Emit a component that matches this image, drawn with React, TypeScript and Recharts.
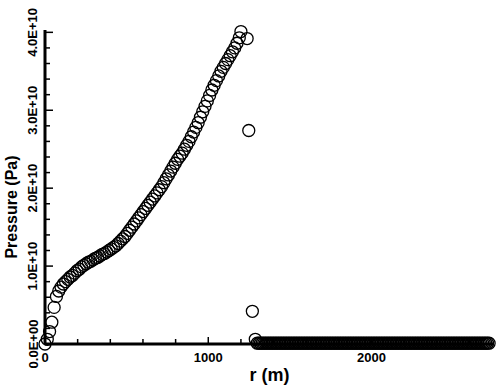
import React from "react";
import { ScatterChart, Scatter, XAxis, YAxis, Label } from "recharts";

// radius r (m): rising branch and shock
const radiusCurve: number[] = [
  0, 14, 28, 42, 56, 70, 84, 98, 112, 126,
  140, 154, 168, 182, 196, 210, 224, 238, 252, 266,
  280, 294, 308, 322, 336, 350, 364, 378, 392, 406,
  420, 434, 448, 462, 476, 490, 504, 518, 532, 546,
  560, 574, 588, 602, 616, 630, 644, 658, 672, 686,
  700, 714, 728, 742, 756, 770, 784, 798, 812, 826,
  840, 854, 868, 882, 896, 910, 924, 938, 952, 966,
  980, 994, 1008, 1022, 1036, 1050, 1064, 1078, 1092, 1106,
  1120, 1134, 1148, 1162, 1176, 1190, 1200, 1238, 1248, 1270,
  1288,
];

// pressure in units of 1E+10 Pa (rising branch and shock)
const pressureCurveE10: number[] = [
  0.0, 0.06, 0.16, 0.28, 0.47, 0.61, 0.68, 0.73, 0.77, 0.8,
  0.83, 0.86, 0.88, 0.91, 0.94, 0.96, 0.99, 1.01, 1.03, 1.05,
  1.06, 1.08, 1.1, 1.11, 1.13, 1.15, 1.16, 1.18, 1.2, 1.22,
  1.24, 1.26, 1.29, 1.32, 1.35, 1.38, 1.42, 1.46, 1.5, 1.54,
  1.58, 1.62, 1.66, 1.7, 1.74, 1.78, 1.82, 1.86, 1.9, 1.94,
  1.98, 2.02, 2.07, 2.12, 2.17, 2.22, 2.27, 2.32, 2.37, 2.41,
  2.45, 2.5, 2.55, 2.6, 2.66, 2.72, 2.78, 2.84, 2.91, 2.98,
  3.05, 3.12, 3.19, 3.26, 3.32, 3.38, 3.44, 3.5, 3.55, 3.6,
  3.65, 3.7, 3.75, 3.8, 3.86, 3.93, 4.01, 3.92, 2.74, 0.42,
  0.06,
];

// radius r (m): undisturbed region ahead of the shock
const radiusAmbient: number[] = [
  1300, 1310, 1320, 1330, 1340, 1350, 1360, 1370, 1380, 1390,
  1400, 1410, 1420, 1430, 1440, 1450, 1460, 1470, 1480, 1490,
  1500, 1510, 1520, 1530, 1540, 1550, 1560, 1570, 1580, 1590,
  1600, 1610, 1620, 1630, 1640, 1650, 1660, 1670, 1680, 1690,
  1700, 1710, 1720, 1730, 1740, 1750, 1760, 1770, 1780, 1790,
  1800, 1810, 1820, 1830, 1840, 1850, 1860, 1870, 1880, 1890,
  1900, 1910, 1920, 1930, 1940, 1950, 1960, 1970, 1980, 1990,
  2000, 2010, 2020, 2030, 2040, 2050, 2060, 2070, 2080, 2090,
  2100, 2110, 2120, 2130, 2140, 2150, 2160, 2170, 2180, 2190,
  2200, 2210, 2220, 2230, 2240, 2250, 2260, 2270, 2280, 2290,
  2300, 2310, 2320, 2330, 2340, 2350, 2360, 2370, 2380, 2390,
  2400, 2410, 2420, 2430, 2440, 2450, 2460, 2470, 2480, 2490,
  2500, 2510, 2520, 2530, 2540, 2550, 2560, 2570, 2580, 2590,
  2600, 2610, 2620, 2630, 2640, 2650, 2660, 2670, 2680, 2690,
  2700, 2710, 2720,
];

// pressure in units of 1E+10 Pa (undisturbed region)
const pressureAmbientE10: number[] = [
  0.01, 0.01, 0.01, 0.01, 0.01, 0.01, 0.01, 0.01, 0.01, 0.01,
  0.01, 0.01, 0.01, 0.01, 0.01, 0.01, 0.01, 0.01, 0.01, 0.01,
  0.01, 0.01, 0.01, 0.01, 0.01, 0.01, 0.01, 0.01, 0.01, 0.01,
  0.01, 0.01, 0.01, 0.01, 0.01, 0.01, 0.01, 0.01, 0.01, 0.01,
  0.01, 0.01, 0.01, 0.01, 0.01, 0.01, 0.01, 0.01, 0.01, 0.01,
  0.01, 0.01, 0.01, 0.01, 0.01, 0.01, 0.01, 0.01, 0.01, 0.01,
  0.01, 0.01, 0.01, 0.01, 0.01, 0.01, 0.01, 0.01, 0.01, 0.01,
  0.01, 0.01, 0.01, 0.01, 0.01, 0.01, 0.01, 0.01, 0.01, 0.01,
  0.01, 0.01, 0.01, 0.01, 0.01, 0.01, 0.01, 0.01, 0.01, 0.01,
  0.01, 0.01, 0.01, 0.01, 0.01, 0.01, 0.01, 0.01, 0.01, 0.01,
  0.01, 0.01, 0.01, 0.01, 0.01, 0.01, 0.01, 0.01, 0.01, 0.01,
  0.01, 0.01, 0.01, 0.01, 0.01, 0.01, 0.01, 0.01, 0.01, 0.01,
  0.01, 0.01, 0.01, 0.01, 0.01, 0.01, 0.01, 0.01, 0.01, 0.01,
  0.01, 0.01, 0.01, 0.01, 0.01, 0.01, 0.01, 0.01, 0.01, 0.01,
  0.01, 0.01, 0.01,
];

const PA_UNIT = 1e10;

const xTicks: number[] = [0, 200, 400, 600, 800, 1000, 1200, 1400, 1600, 1800, 2000, 2200, 2400, 2600];
const xMajorTicks: number[] = [0, 1000, 2000];
const xTickLabels: string[] = ["0", "1000", "2000"];

const yTicksE10: number[] = [0, 0.2, 0.4, 0.6, 0.8, 1, 1.2, 1.4, 1.6, 1.8, 2, 2.2, 2.4, 2.6, 2.8, 3, 3.2, 3.4, 3.6, 3.8, 4];
const yMajorTicksE10: number[] = [0, 1, 2, 3, 4];
const yTickLabels: string[] = ["0.0E+00", "1.0E+10", "2.0E+10", "3.0E+10", "4.0E+10"];

const data = [
  ...radiusCurve.map((r, i) => ({ r, p: pressureCurveE10[i] * PA_UNIT })),
  ...radiusAmbient.map((r, i) => ({ r, p: pressureAmbientE10[i] * PA_UNIT })),
];
const yTicks = yTicksE10.map((v) => v * PA_UNIT);

const FONT = "'Liberation Sans', Arial, Helvetica, sans-serif";

const XTick = (props: any) => {
  const { x, y, payload } = props;
  const idx = xMajorTicks.indexOf(payload.value);
  const major = idx >= 0;
  return (
    <g>
      <line x1={x} x2={x} y1={y} y2={y - (major ? 7 : 5)} stroke="#000" strokeWidth={1.5} />
      {major && (
        <text x={x} y={y + 18} textAnchor="middle" fontFamily={FONT} fontWeight="bold" fontSize={13} fill="#000">
          {xTickLabels[idx]}
        </text>
      )}
    </g>
  );
};

const YTick = (props: any) => {
  const { x, y, payload } = props;
  const vE10 = Math.round((payload.value / PA_UNIT) * 10) / 10;
  const idx = yMajorTicksE10.indexOf(vE10);
  const major = idx >= 0;
  const tx = x - 12;
  return (
    <g>
      <line x1={x} x2={x + (major ? 8 : 5)} y1={y} y2={y} stroke="#000" strokeWidth={1.5} />
      {major && (
        <text
          x={tx}
          y={y}
          transform={`rotate(-90 ${tx} ${y})`}
          textAnchor="middle"
          dominantBaseline="central"
          fontFamily={FONT}
          fontWeight="bold"
          fontSize={13}
          fill="#000"
        >
          {yTickLabels[idx]}
        </text>
      )}
    </g>
  );
};

const Marker = (props: any) => {
  const { cx, cy } = props;
  return <circle cx={cx} cy={cy} r={6} fill="none" stroke="#000" strokeWidth={1.3} />;
};

export default function App() {
  return (
    <div style={{ position: "absolute", left: 0, top: 0, background: "#fff" }}>
      <ScatterChart width={499} height={390} margin={{ top: 30, right: 5, bottom: 16, left: 0 }}>
        <XAxis
          type="number"
          dataKey="r"
          domain={[0, 2750]}
          ticks={xTicks}
          interval={0}
          tickSize={0}
          tickMargin={0}
          tick={(p: any) => <XTick {...p} />}
          axisLine={{ stroke: "#000", strokeWidth: 3 }}
          height={30}
        >
          <Label
            content={(lp: any) => {
              const vb = lp.viewBox;
              return (
                <text
                  x={vb.x + vb.width / 2}
                  y={vb.y + 37}
                  textAnchor="middle"
                  fontFamily={FONT}
                  fontWeight="bold"
                  fontSize={18}
                  fill="#000"
                >
                  r (m)
                </text>
              );
            }}
          />
        </XAxis>
        <YAxis
          type="number"
          dataKey="p"
          domain={[0, 4.03e10]}
          ticks={yTicks}
          interval={0}
          tickSize={0}
          tickMargin={0}
          tick={(p: any) => <YTick {...p} />}
          axisLine={{ stroke: "#000", strokeWidth: 3 }}
          width={45}
        >
          <Label
            content={(lp: any) => {
              const vb = lp.viewBox;
              const cx = vb.x + 11;
              const cy = vb.y + vb.height / 2 + 20;
              return (
                <text
                  x={cx}
                  y={cy}
                  transform={`rotate(-90 ${cx} ${cy})`}
                  textAnchor="middle"
                  dominantBaseline="central"
                  fontFamily={FONT}
                  fontWeight="bold"
                  fontSize={16}
                  fill="#000"
                >
                  Pressure (Pa)
                </text>
              );
            }}
          />
        </YAxis>
        <Scatter data={data} shape={(p: any) => <Marker {...p} />} isAnimationActive={false} />
      </ScatterChart>
    </div>
  );
}
